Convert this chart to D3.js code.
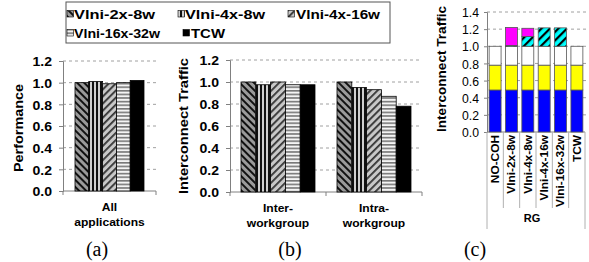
<!DOCTYPE html>
<html>
<head>
<meta charset="utf-8">
<script src="https://d3js.org/d3.v7.min.js"></script>
<style>
  body { margin: 0; background: #fff; }
  svg { display: block; }
</style>
</head>
<body>
<div id="chart"></div>
<script>
var svgWidth = 589;
var svgHeight = 262;
var SANS = "Arial, 'Liberation Sans', sans-serif";
var SERIF = "'Times New Roman', 'Liberation Serif', serif";

// data
var series = ["Vlni-2x-8w", "Vlni-4x-8w", "Vlni-4x-16w", "Vlni-16x-32w", "TCW"];
var perfCats = ["All applications"];
var perfValues = [1.00, 1.01, 0.99, 1.00, 1.02];
var trafficCats = ["Inter-workgroup", "Intra-workgroup"];
var interValues = [1.00, 0.975, 1.00, 0.975, 0.975];
var intraValues = [1.00, 0.95, 0.93, 0.87, 0.78];
var yTicksAB = [0, 0.2, 0.4, 0.6, 0.8, 1.0, 1.2];

var configs = ["NO-COH", "Vlni-2x-8w", "Vlni-4x-8w", "Vlni-4x-16w", "Vlni-16x-32w", "TCW"];
var segBlue = [0.49, 0.49, 0.49, 0.49, 0.49, 0.49];
var segYellow = [0.29, 0.29, 0.29, 0.29, 0.29, 0.29];
var segWhite = [0.22, 0.22, 0.22, 0.22, 0.22, 0.22];
var segCyan = [0, 0.01, 0.115, 0.215, 0.215, 0];
var segMagenta = [0, 0.21, 0.095, 0, 0, 0];
var yTicksC = [0, 0.2, 0.4, 0.6, 0.8, 1.0, 1.2, 1.4];

var svg = d3.select("#chart")
  .append("svg")
  .attr("width", svgWidth)
  .attr("height", svgHeight)
  .attr("font-family", SANS);

// the source figure's text is a little wider than plain Arial, so stretch it
function stretch(sel, k) {
  sel.each(function() {
    var L = this.getComputedTextLength();
    d3.select(this).attr("textLength", L * k).attr("lengthAdjust", "spacingAndGlyphs");
  });
}
function fitTo(sel, w) {
  sel.attr("textLength", w).attr("lengthAdjust", "spacingAndGlyphs");
}

// ---------------- patterns
var defs = svg.append("defs");

function stripePattern(id, bg, fg, angle, gap, lw) {
  var p = defs.append("pattern")
    .attr("id", id)
    .attr("patternUnits", "userSpaceOnUse")
    .attr("width", gap)
    .attr("height", gap)
    .attr("patternTransform", "rotate(" + angle + ")");
  p.append("rect").attr("width", gap).attr("height", gap).attr("fill", bg);
  p.append("rect").attr("x", 0).attr("y", 0).attr("width", lw).attr("height", gap).attr("fill", fg);
}

stripePattern("p0", "#9a9a9a", "#111", -45, 5, 2);    // backslash
stripePattern("p1", "#d0d0d0", "#111", 0, 4, 2);      // vertical
stripePattern("p2", "#c8c8c8", "#333", 45, 5, 1.8);   // forward slash
stripePattern("p3", "#f4f4f4", "#777", 90, 3.6, 1.6); // horizontal
stripePattern("pc", "#00ffff", "#000", 45, 6, 2.2);   // cyan hatch

var fills = ["url(#p0)", "url(#p1)", "url(#p2)", "url(#p3)", "#000"];

// ---------------- clustered bar panel
function clusterPanel(opts) {
  var y = d3.scaleLinear().domain([0, 1.2]).range([opts.y0, opts.y1]);
  var x0 = d3.scaleBand().domain(opts.cats).range([opts.xl, opts.xr]).padding(0);
  var x1 = d3.scaleBand().domain(series).range([opts.inset, x0.bandwidth() - opts.inset]).padding(0);

  var g = svg.append("g");

  // gridlines
  g.selectAll(".grid")
    .data(yTicksAB.filter(function(d) { return d > 0; }))
    .enter().append("line")
    .attr("x1", opts.xl).attr("x2", opts.xr)
    .attr("y1", function(d) { return y(d); })
    .attr("y2", function(d) { return y(d); })
    .attr("stroke", "#a0a0a0")
    .attr("stroke-dasharray", "3,3");

  // y axis
  var leftAxis = d3.axisLeft(y).tickValues(yTicksAB).tickFormat(d3.format(".1f")).tickSize(4).tickPadding(7);
  var ya = g.append("g").attr("transform", "translate(" + opts.xl + ",0)").call(leftAxis)
    .attr("font-family", SANS);
  ya.select(".domain").attr("stroke", "#808080");
  ya.selectAll(".tick line").attr("stroke", "#808080");
  ya.selectAll("text").attr("font-size", 13).attr("font-weight", "bold").attr("fill", "#000")
    .attr("dy", "0.36em");
  stretch(ya.selectAll("text"), 1.08);

  // x axis line with boundary ticks
  g.append("line")
    .attr("x1", opts.xl).attr("x2", opts.xr)
    .attr("y1", opts.y0).attr("y2", opts.y0)
    .attr("stroke", "#808080");
  var bounds = opts.cats.map(function(c) { return x0(c); }).concat([opts.xr]);
  g.selectAll(".xt").data(bounds).enter().append("line")
    .attr("x1", function(d) { return d; }).attr("x2", function(d) { return d; })
    .attr("y1", opts.y0).attr("y2", opts.y0 + 4)
    .attr("stroke", "#808080");

  // bars
  opts.cats.forEach(function(c, ci) {
    var vals = opts.values[ci];
    g.selectAll(".bar" + ci)
      .data(vals)
      .enter().append("rect")
      .attr("x", function(d, i) { return x0(c) + x1(series[i]); })
      .attr("y", function(d) { return y(d); })
      .attr("width", x1.bandwidth())
      .attr("height", function(d) { return opts.y0 - y(d); })
      .attr("fill", function(d, i) { return fills[i]; })
      .attr("stroke", "#000")
      .attr("stroke-width", 0.8);

    // category label, two lines
    opts.labels[ci].forEach(function(p, pi) {
      var t = g.append("text")
        .attr("x", x0(c) + x0.bandwidth() / 2)
        .attr("y", opts.y0 + 20 + pi * 15)
        .attr("text-anchor", "middle")
        .attr("font-size", 11.5)
        .attr("font-weight", "bold")
        .text(p);
      stretch(t, 1.05);
    });
  });

  // axis title
  var title = svg.append("text")
    .attr("transform", "translate(" + opts.titleX + "," + opts.titleY + ") rotate(-90)")
    .attr("text-anchor", "middle")
    .attr("font-size", 12.5)
    .attr("font-weight", "bold")
    .text(opts.title);
  fitTo(title, opts.titleW);
}

clusterPanel({
  cats: perfCats, values: [perfValues], labels: [["All", "applications"]],
  xl: 63, xr: 156, y0: 191, y1: 61, inset: 12,
  title: "Performance", titleX: 23, titleY: 128, titleW: 88
});

clusterPanel({
  cats: trafficCats, values: [interValues, intraValues], labels: [["Inter-", "workgroup"], ["Intra-", "workgroup"]],
  xl: 230, xr: 422, y0: 192, y1: 60, inset: 11,
  title: "Interconnect Traffic", titleX: 188, titleY: 126, titleW: 136
});

// ---------------- stacked panel (c)
(function() {
  var xl = 487, xr = 585, y0 = 132, y1 = 12;
  var y = d3.scaleLinear().domain([0, 1.4]).range([y0, y1]);
  var x = d3.scaleBand().domain(configs).range([xl, xr]).paddingInner(0.27).paddingOuter(0.13);
  var xb = d3.scaleBand().domain(configs).range([xl, xr]).padding(0);
  var g = svg.append("g");

  g.selectAll(".grid")
    .data(yTicksC.filter(function(d) { return d > 0; }))
    .enter().append("line")
    .attr("x1", xl).attr("x2", svgWidth)
    .attr("y1", function(d) { return y(d); })
    .attr("y2", function(d) { return y(d); })
    .attr("stroke", "#a0a0a0")
    .attr("stroke-dasharray", "3,3");

  var leftAxis = d3.axisLeft(y).tickValues(yTicksC).tickFormat(d3.format(".1f")).tickSize(3).tickPadding(5);
  var ya = g.append("g").attr("transform", "translate(" + xl + ",0)").call(leftAxis)
    .attr("font-family", SANS);
  ya.select(".domain").attr("stroke", "#808080");
  ya.selectAll(".tick line").attr("stroke", "#808080");
  ya.selectAll("text").attr("font-size", 13).attr("fill", "#000").attr("dy", "0.36em");
  fitTo(ya.selectAll("text"), 17);

  g.append("line").attr("x1", xl).attr("x2", xr).attr("y1", y0).attr("y2", y0).attr("stroke", "#808080");

  // stacks through d3.stack
  var keys = ["blue", "yellow", "white", "cyan", "magenta"];
  var layerFill = { blue: "#0000ff", yellow: "#ffff00", white: "#ffffff", cyan: "url(#pc)", magenta: "#ff00ff" };
  var rows = configs.map(function(c, i) {
    return { cfg: c, blue: segBlue[i], yellow: segYellow[i], white: segWhite[i], cyan: segCyan[i], magenta: segMagenta[i] };
  });
  var stacked = d3.stack().keys(keys)(rows);

  g.selectAll(".layer")
    .data(stacked)
    .enter().append("g")
    .attr("fill", function(s) { return layerFill[s.key]; })
    .selectAll("rect")
    .data(function(s) { return s.filter(function(d) { return d[1] - d[0] > 0; }); })
    .enter().append("rect")
    .attr("x", function(d) { return x(d.data.cfg); })
    .attr("y", function(d) { return y(d[1]); })
    .attr("width", x.bandwidth())
    .attr("height", function(d) { return y(d[0]) - y(d[1]); })
    .attr("stroke", "#555")
    .attr("stroke-width", 0.8);

  // label table lines
  var inner = configs.slice(1).map(function(c) { return xb(c); });
  g.selectAll(".sep").data(inner).enter().append("line")
    .attr("x1", function(d) { return d; }).attr("x2", function(d) { return d; })
    .attr("y1", y0).attr("y2", 208)
    .attr("stroke", "#b0b0b0");
  g.selectAll(".edge").data([xl, xr]).enter().append("line")
    .attr("x1", function(d) { return d; }).attr("x2", function(d) { return d; })
    .attr("y1", y0).attr("y2", 229)
    .attr("stroke", "#b0b0b0");

  var cl = g.selectAll(".cl").data(configs).enter().append("text")
    .attr("transform", function(c) { return "translate(" + (xb(c) + xb.bandwidth() / 2 + 3.8) + "," + (y0 + 3) + ") rotate(-90)"; })
    .attr("text-anchor", "end")
    .attr("font-size", 11)
    .attr("font-weight", "bold")
    .text(function(c) { return c; });
  // longest label spans about 72px in the source
  var longest = d3.max(cl.nodes(), function(n) { return n.getComputedTextLength(); });
  stretch(cl, 72 / longest);

  g.append("text")
    .attr("x", (xl + xr) / 2 - 4).attr("y", 222)
    .attr("text-anchor", "middle")
    .attr("font-size", 11)
    .attr("font-weight", "bold")
    .text("RG");

  var title = svg.append("text")
    .attr("transform", "translate(446,69) rotate(-90)")
    .attr("text-anchor", "middle")
    .attr("font-size", 13)
    .attr("font-weight", "bold")
    .text("Interconnect Traffic");
  fitTo(title, 126);
})();

// ---------------- legend
var legend = svg.append("g");
legend.append("rect")
  .attr("x", 66).attr("y", 2).attr("width", 324).attr("height", 41)
  .attr("fill", "#fff").attr("stroke", "#555");
var legSwatchX = [67, 178, 288, 67, 183];
var legTextX = [74, 185, 296, 74, 191];
var legRowY = [14, 33];
var legRow = [0, 0, 0, 1, 1];
var legTextW = [81, 80, 84, 86, 34];
series.forEach(function(s, i) {
  var cy = legRowY[legRow[i]];
  legend.append("rect")
    .attr("x", legSwatchX[i]).attr("y", cy - 3.5).attr("width", 6.5).attr("height", 6.5)
    .attr("fill", fills[i]).attr("stroke", "#000").attr("stroke-width", 0.6);
  var t = legend.append("text")
    .attr("x", legTextX[i]).attr("y", cy + 4.5)
    .attr("font-size", 12.5)
    .attr("font-weight", "bold")
    .text(s);
  fitTo(t, legTextW[i]);
});

// ---------------- panel captions
var captions = [["(a)", 97], ["(b)", 290], ["(c)", 475]];
svg.selectAll(".cap").data(captions).enter().append("text")
  .attr("x", function(d) { return d[1]; })
  .attr("y", 256)
  .attr("text-anchor", "middle")
  .attr("font-family", SERIF)
  .attr("font-size", 20)
  .text(function(d) { return d[0]; });
</script>
</body>
</html>
